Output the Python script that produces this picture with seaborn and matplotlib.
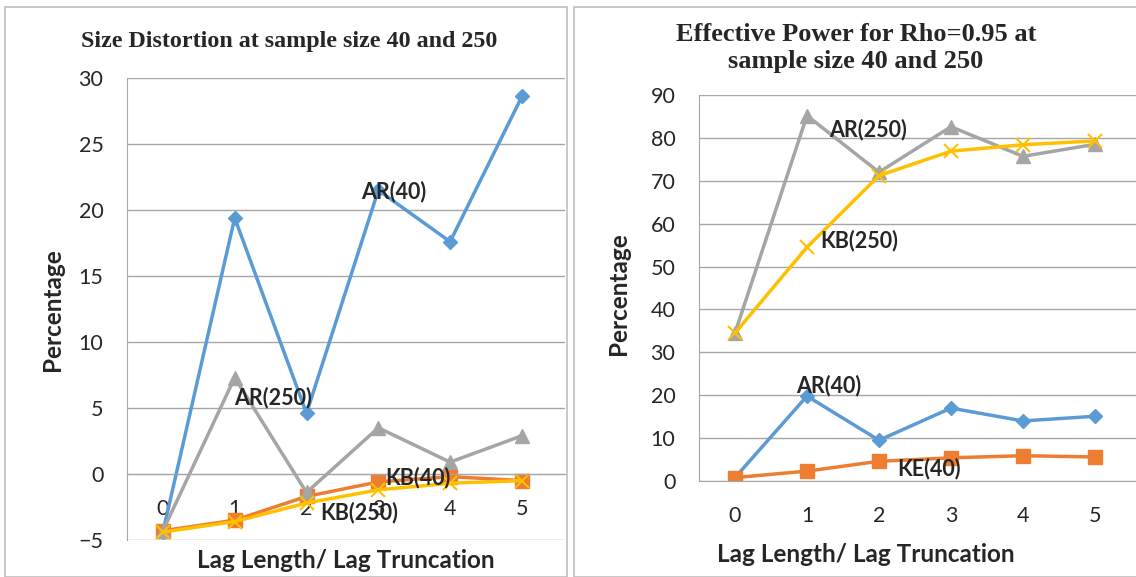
import matplotlib
matplotlib.use("Agg")
import matplotlib.pyplot as plt
import seaborn as sns
import pandas as pd
from matplotlib.patches import Rectangle

# ---------------- data ----------------
lags = [0, 1, 2, 3, 4, 5]
lag_labels = ["0", "1", "2", "3", "4", "5"]

# Size distortion (left)
size_ar40 = [-4.4, 19.4, 4.6, 21.5, 17.6, 28.6]
size_kb40 = [-4.3, -3.5, -1.7, -0.6, -0.2, -0.5]
size_ar250 = [-4.3, 7.3, -1.4, 3.5, 0.9, 2.9]
size_kb250 = [-4.4, -3.6, -2.2, -1.2, -0.7, -0.5]

# Effective power (right)
pow_ar40 = [0.8, 19.8, 9.5, 17.0, 14.0, 15.1]
pow_ke40 = [0.8, 2.3, 4.6, 5.4, 5.9, 5.6]
pow_ar250 = [34.5, 85.2, 72.0, 82.6, 75.7, 78.5]
pow_kb250 = [34.5, 54.5, 71.2, 76.9, 78.4, 79.3]

left_title = "Size Distortion at sample size 40 and 250"
right_title = "Effective Power for Rho=0.95 at\nsample size 40 and 250"
xlabel = "Lag Length/ Lag Truncation"
ylabel = "Percentage"

BLUE, ORANGE, GRAY, YELLOW = "#5B9BD5", "#ED7D31", "#A5A5A5", "#FFC000"

sns.set_style("white")
plt.rcParams["font.family"] = ["Lato", "DejaVu Sans"]

W, H = 1136, 577
fig = plt.figure(figsize=(W / 100, H / 100), dpi=100)

# panel borders
fig.patches.append(Rectangle((5 / W, 0), (567 - 5) / W, 1 - 7 / H, transform=fig.transFigure,
                             fill=False, edgecolor="#BFBFBF", linewidth=1.2))
fig.patches.append(Rectangle((574 / W, 0), (1140 - 574) / W, 1 - 7 / H, transform=fig.transFigure,
                             fill=False, edgecolor="#BFBFBF", linewidth=1.2))


def make_axes(x0, x1, y0, y1):
    return fig.add_axes([x0 / W, 1 - y1 / H, (x1 - x0) / W, (y1 - y0) / H])


def draw_series(ax, series):
    for vals, color, marker, ms, mew in series:
        df = pd.DataFrame({"lag": lags, "val": vals})
        sns.lineplot(data=df, x="lag", y="val", ax=ax, color=color, marker=marker,
                     markersize=ms, markeredgecolor=color, markeredgewidth=mew,
                     linewidth=2.5, legend=False)


def style_axes(ax, ymin, ymax, step, xmax):
    ax.set_xlim(-0.5, xmax)
    ax.set_ylim(ymin, ymax)
    ax.set_yticks(list(range(ymin, ymax + 1, step)))
    ax.set_xticks(lags)
    ax.set_xticklabels(lag_labels)
    ax.grid(axis="y", color="#A6A6A6", linewidth=1.0)
    ax.grid(axis="x", visible=False)
    ax.set_axisbelow(True)
    for s in ["top", "right"]:
        ax.spines[s].set_visible(False)
    ax.spines["left"].set_color("#A6A6A6")
    ax.spines["bottom"].set_color("#A6A6A6")
    ax.spines["bottom"].set_position(("data", 0))
    ax.tick_params(axis="y", length=7, color="#A6A6A6", pad=10, labelsize=15.5)
    ax.tick_params(axis="x", length=0, pad=18, labelsize=15.5)
    ax.set_facecolor("none")


lab = dict(fontsize=15.5, fontweight="bold", ha="center", va="center")
axlab = dict(fontsize=17.5, fontweight="bold")

# ---------------- left chart ----------------
axL = make_axes(127, 565, 78, 540)
draw_series(axL, [
    (size_ar40, BLUE, "D", 7.5, 1),
    (size_kb40, ORANGE, "s", 9.5, 1),
    (size_ar250, GRAY, "^", 10.5, 1),
    (size_kb250, YELLOW, "x", 9.5, 1.5),
])
style_axes(axL, -5, 30, 5, 5.6)
axL.set_xlabel(xlabel, **axlab)
axL.xaxis.label.set_va("center")
axL.xaxis.set_label_coords((346 - 127) / (565 - 127), (540 - 561) / 462)
axL.set_ylabel(ylabel, **axlab)
axL.yaxis.label.set_va("center")
axL.yaxis.set_label_coords((52 - 127) / (565 - 127), (540 - 310) / 462)
fig.text(289 / W, 1 - 42 / H, left_title, ha="center", va="center",
         family="Liberation Serif", fontweight="bold", fontsize=17.3)
axL.text(3.22, 21.4, "AR(40)", **lab)
axL.text(1.54, 5.8, "AR(250)", **lab)
axL.text(3.55, -0.27, "KB(40)", **lab)
axL.text(2.74, -2.9, "KB(250)", **lab)

# ---------------- right chart ----------------
axR = make_axes(699, 1136, 95, 481)
draw_series(axR, [
    (pow_ar40, BLUE, "D", 7.5, 1),
    (pow_ke40, ORANGE, "s", 9.5, 1),
    (pow_ar250, GRAY, "^", 10.5, 1),
    (pow_kb250, YELLOW, "x", 9.5, 1.5),
])
style_axes(axR, 0, 90, 10, 5.57)
axR.set_xlabel(xlabel, **axlab)
axR.xaxis.label.set_va("center")
axR.xaxis.set_label_coords((866 - 699) / (1136 - 699), (481 - 555) / 386)
axR.set_ylabel(ylabel, **axlab)
axR.yaxis.label.set_va("center")
axR.yaxis.set_label_coords((618 - 699) / (1136 - 699), (481 - 294) / 386)
fig.text(856 / W, 1 - 48 / H, right_title, ha="center", va="center",
         family="Liberation Serif", fontweight="bold", fontsize=19, linespacing=1.18)
axR.text(1.85, 82.0, "AR(250)", **lab)
axR.text(1.72, 56.0, "KB(250)", **lab)
axR.text(1.30, 22.2, "AR(40)", **lab)
axR.text(2.69, 2.8, "KE(40)", **lab)

fig.savefig("out.png", dpi=100)
